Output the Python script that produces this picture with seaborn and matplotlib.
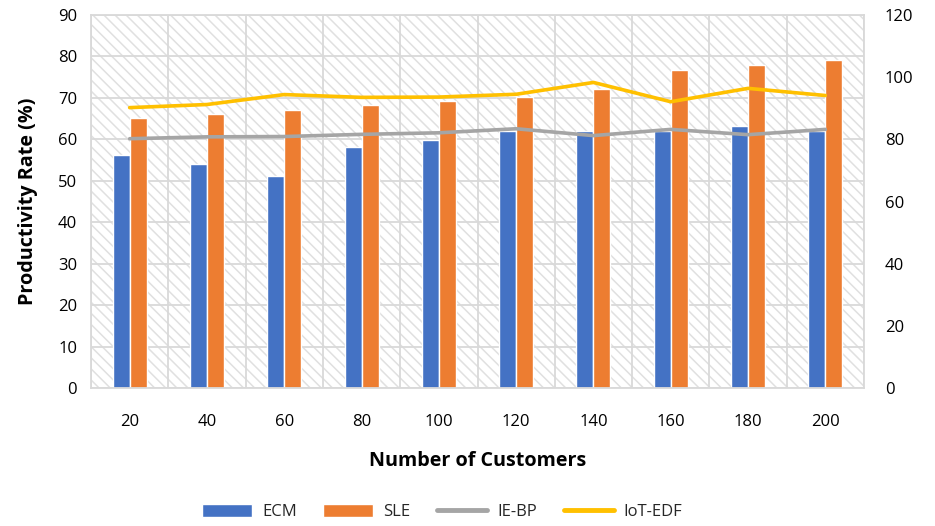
import numpy as np
import pandas as pd
import matplotlib
matplotlib.use("Agg")
import matplotlib.pyplot as plt
import seaborn as sns
from matplotlib.patches import Patch
from matplotlib.lines import Line2D

# Number of customers on the x axis
customers = [20, 40, 60, 80, 100, 120, 140, 160, 180, 200]

# Productivity rate (%) – left axis, bars
ecm = [56.2, 54.0, 51.1, 58.2, 59.8, 62.1, 62.0, 62.0, 63.2, 62.0]
sle = [65.2, 66.2, 67.1, 68.2, 69.2, 70.3, 72.2, 76.8, 77.9, 79.2]

# Right axis, lines
ie_bp = [80.2, 80.8, 80.9, 81.6, 82.1, 83.4, 81.2, 83.2, 81.5, 83.2]
iot_edf = [90.2, 91.2, 94.4, 93.5, 93.6, 94.5, 98.3, 92.1, 96.4, 94.1]

colors = {"ECM": "#4472C4", "SLE": "#ED7D31", "IE-BP": "#A5A5A5", "IoT-EDF": "#FFC000"}
grid_color = "#d9d9d9"

sns.set_theme(style="white")
plt.rcParams["font.family"] = ["Open Sans", "DejaVu Sans"]
plt.rcParams["hatch.linewidth"] = 1.1

bars = pd.DataFrame({
    "Customers": customers * 2,
    "Rate": ecm + sle,
    "Method": ["ECM"] * len(customers) + ["SLE"] * len(customers),
})
lines = pd.DataFrame({
    "Customers": customers * 2,
    "Value": ie_bp + iot_edf,
    "Method": ["IE-BP"] * len(customers) + ["IoT-EDF"] * len(customers),
})

fig = plt.figure(figsize=(9.35, 5.26), dpi=100)
ax = fig.add_axes([91 / 935, 1 - 388 / 526, (864 - 91) / 935, (388 - 15) / 526])

# hatched plot background
ax.patch.set_facecolor("white")
ax.patch.set_edgecolor("#e0e0e0")
ax.patch.set_linewidth(0)
ax.patch.set_hatch("\\\\\\")

ax.set_axisbelow(True)
sns.barplot(data=bars, x="Customers", y="Rate", hue="Method", palette=colors,
            width=0.44, gap=0, saturation=1, legend=False, ax=ax, zorder=2)

ax2 = ax.twinx()
sns.pointplot(data=lines, x="Customers", y="Value", hue="Method", palette=colors,
              markers="", linestyles="-", errorbar=None, legend=False, ax=ax2,
              linewidth=2.6)

ax.set_xlim(-0.5, len(customers) - 0.5)
ax2.set_xlim(-0.5, len(customers) - 0.5)
ax.set_ylim(0, 90)
ax.set_yticks(np.arange(0, 91, 10))
ax2.set_ylim(0, 120)
ax2.set_yticks(np.arange(0, 121, 20))

# grid: horizontal at left ticks, vertical at category boundaries
ax.set_xticks(np.arange(-0.5, len(customers), 1), minor=True)
ax.grid(which="major", axis="y", color=grid_color, lw=1.3)
ax.grid(which="minor", axis="x", color=grid_color, lw=1.3)
ax.grid(which="major", axis="x", visible=False)
ax.tick_params(axis="x", which="minor", length=6, width=1.3, color=grid_color)
ax.tick_params(axis="x", which="major", length=0, pad=19, labelsize=12, labelcolor="black")
ax.tick_params(axis="y", length=0, pad=10, labelsize=12, labelcolor="black")
ax2.tick_params(axis="y", length=0, pad=15, labelsize=12, labelcolor="black")

for s in ax.spines.values():
    s.set_color(grid_color)
    s.set_linewidth(1.3)
for s in ax2.spines.values():
    s.set_visible(False)

ax.set_xlabel("Number of Customers", fontsize=14.2, fontweight="bold", color="black", labelpad=15)
ax.set_ylabel("Productivity Rate (%)", fontsize=14.2, fontweight="bold", color="black", labelpad=14)
ax2.set_ylabel("")

handles = [
    Patch(facecolor=colors["ECM"], label="ECM"),
    Patch(facecolor=colors["SLE"], label="SLE"),
    Line2D([], [], color=colors["IE-BP"], lw=3.5, label="IE-BP"),
    Line2D([], [], color=colors["IoT-EDF"], lw=3.5, label="IoT-EDF"),
]
fig.legend(handles=handles, loc="center", bbox_to_anchor=(0.473, 0.027), ncol=4,
           frameon=False, fontsize=12, handlelength=3.0, handleheight=0.85,
           columnspacing=1.6, handletextpad=0.6)

fig.savefig("out.png", dpi=100)
